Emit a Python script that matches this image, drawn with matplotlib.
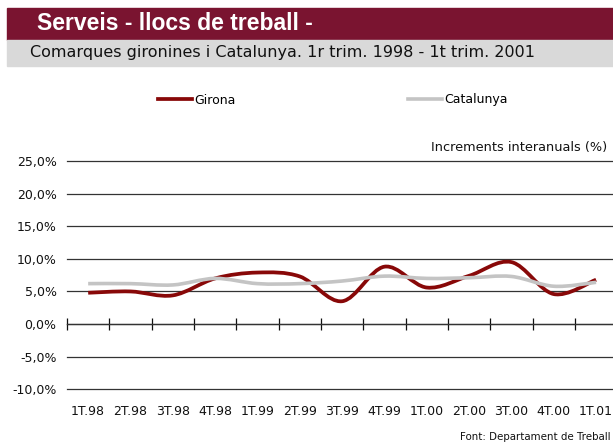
import numpy as np
import matplotlib
matplotlib.use("Agg")
import matplotlib.pyplot as plt
from matplotlib.path import Path
from matplotlib.patches import PathPatch, Rectangle
from matplotlib.lines import Line2D

plt.rcParams['font.family'] = ['DejaVu Sans']

quarters = ["1T.98", "2T.98", "3T.98", "4T.98", "1T.99", "2T.99", "3T.99",
            "4T.99", "1T.00", "2T.00", "3T.00", "4T.00", "1T.01"]
girona = [4.8, 5.0, 4.4, 7.0, 7.9, 7.3, 3.5, 8.8, 5.6, 7.4, 9.5, 4.6, 6.8]
catalunya = [6.2, 6.2, 6.0, 7.0, 6.2, 6.2, 6.6, 7.35, 7.0, 7.1, 7.3, 5.8, 6.4]
y_ticks = [-10, -5, 0, 5, 10, 15, 20, 25]

RED = "#880808"
GREY = "#c4c4c4"
MAROON = "#7a1430"


def smooth_path(x, y):
    # cubic bezier through the points, like Excel's smoothed line
    p = np.column_stack([x, y]).astype(float)
    n = len(p)
    verts = [p[0]]
    codes = [Path.MOVETO]
    for i in range(n - 1):
        p0 = p[max(i - 1, 0)]
        p1 = p[i]
        p2 = p[i + 1]
        p3 = p[min(i + 2, n - 1)]
        verts += [p1 + (p2 - p0) / 6, p2 - (p3 - p1) / 6, p2]
        codes += [Path.CURVE4] * 3
    return Path(verts, codes)


W, H = 613, 443
fig = plt.figure(figsize=(W / 100, H / 100), dpi=100)

# header bands
fig.patches.append(Rectangle((7 / W, 1 - 40 / H), 1 - 7 / W, 32 / H,
                             transform=fig.transFigure, color=MAROON, zorder=0))
fig.patches.append(Rectangle((7 / W, 1 - 66 / H), 1 - 7 / W, 26 / H,
                             transform=fig.transFigure, color="#d9d9d9", zorder=0))
fig.text(37 / W, 1 - 24 / H, "Serveis - llocs de treball -", color="white",
         fontsize=16.5, fontweight="bold", va="center", ha="left",
         family=['Liberation Sans'])
fig.text(30 / W, 1 - 53 / H,
         "Comarques gironines i Catalunya. 1r trim. 1998 - 1t trim. 2001",
         fontsize=11.5, va="center", ha="left", color="#111111")

ymin, ymax = -10, 25
ax = fig.add_axes([67 / W, 1 - 389.3 / H, 1 - 67 / W, (389.3 - 161) / H])
x = np.arange(len(quarters))
ax.add_patch(PathPatch(smooth_path(x, girona), fill=False, edgecolor=RED,
                       lw=2.7, zorder=3))
ax.add_patch(PathPatch(smooth_path(x, catalunya), fill=False, edgecolor=GREY,
                       lw=2.6, zorder=4))
ax.set_xlim(-0.5, 12.4)
ax.set_ylim(ymin, ymax)

ax.set_yticks(y_ticks)
ax.set_yticklabels([f"{v:.1f}".replace(".", ",") + "%" for v in y_ticks])
ax.set_xticks(x)
ax.set_xticklabels(quarters)
ax.tick_params(axis="both", length=0, labelsize=9, colors="#111111")
ax.tick_params(axis="y", pad=7.5)
ax.tick_params(axis="x", pad=11)
ax.grid(axis="y", color="#333333", lw=0.9)
for gl in ax.get_ygridlines():
    gl.set_clip_on(False)
ax.set_axisbelow(True)
for s in ax.spines.values():
    s.set_visible(False)

# category axis with tick marks at 0%
sec = ax.secondary_xaxis((0 - ymin) / (ymax - ymin))
sec.set_xticks(np.arange(-0.5, len(quarters), 1))
sec.set_xticklabels([])
sec.tick_params(direction="inout", length=9, width=0.9, color="#111111")
sec.spines["bottom"].set_color("#111111")
sec.spines["bottom"].set_linewidth(0.9)

fig.text(607 / W, 1 - 148 / H, "Increments interanuals (%)", fontsize=9.3,
         ha="right", va="center", color="#111111")

handles = [Line2D([], [], color=RED, lw=2.7), Line2D([], [], color=GREY, lw=2.6)]
fig.legend(handles, ["Girona", "Catalunya"], loc="center left",
           bbox_to_anchor=(158 / W, 1 - 100 / H), ncol=2, frameon=False,
           fontsize=9, handlelength=2.7, handletextpad=0.2,
           columnspacing=13.8, borderpad=0, borderaxespad=0)

fig.text(610 / W, 1 - 437 / H, "Font: Departament de Treball", fontsize=7.4,
         ha="right", va="center", color="#111111")

fig.savefig("out.png", dpi=100)
